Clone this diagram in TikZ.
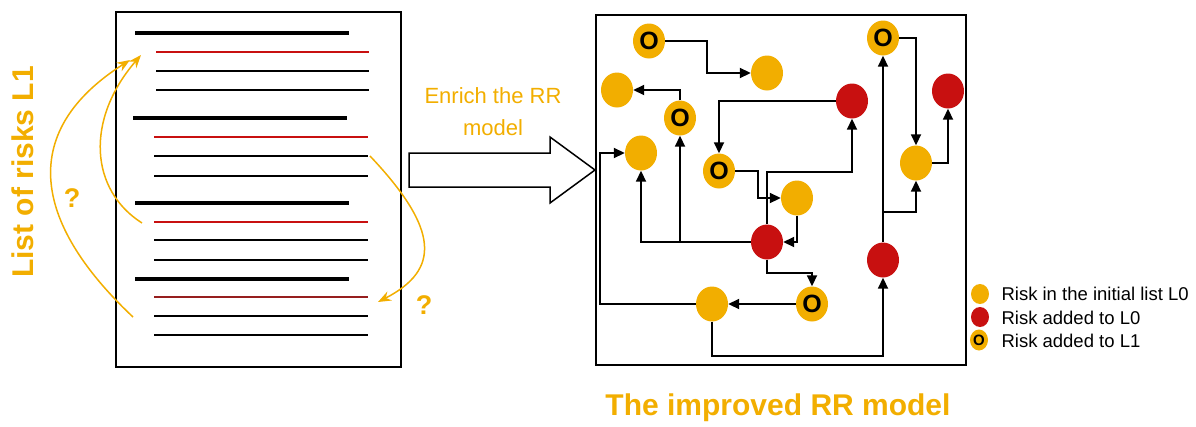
\documentclass[tikz,border=0pt]{standalone}
\usepackage{fontspec}
\setmainfont{Liberation Sans}
\usetikzlibrary{shapes.geometric,arrows.meta}
\definecolor{gold}{RGB}{242,174,0}
\definecolor{riskred}{RGB}{200,16,16}
\definecolor{darkred}{RGB}{150,30,30}
\begin{document}
\begin{tikzpicture}[x=1pt,y=-1pt,
  yel/.style={ellipse, fill=gold, minimum width=32pt, minimum height=35pt, inner sep=0pt},
  redrisk/.style={yel, fill=riskred},
  ring/.style={yel, font=\bfseries\fontsize{25}{25}\selectfont, text=black},
  syel/.style={ellipse, fill=gold, minimum width=18pt, minimum height=20pt, inner sep=0pt},
  sred/.style={syel, fill=riskred},
  sring/.style={syel, minimum height=21pt, font=\bfseries\fontsize{15}{15}\selectfont, text=black},
  link/.style={line width=1.8pt, -{Triangle[length=11pt,width=10pt]}},
  guess/.style={draw=gold, line width=1.5pt, -{Stealth[length=13pt,width=10pt]}, gold},
  title/.style={text=gold, font=\bfseries\fontsize{30}{30}\selectfont},
  qmark/.style={text=gold, font=\bfseries\fontsize{27}{27}\selectfont, anchor=base},
  legtext/.style={anchor=base west, font=\fontsize{18.5}{18.5}\selectfont},
  thickln/.style={line width=3.2pt},
  thinln/.style={line width=1.6pt},
  redln/.style={line width=1.4pt, draw=riskred}
]
\useasboundingbox (0,0) rectangle (1196,426);

% ---------- left document ----------
\node[draw, line width=1.5pt, minimum width=285pt, minimum height=355pt, anchor=north west, inner sep=0pt] (doc) at (115,11) {};

\draw[thickln] (135,33) -- (349,33);
\draw[redln]   (156,52) -- (369,52);
\draw[thinln]  (156,71) -- (369,71);
\draw[thinln]  (156,90) -- (369,90);

\draw[thickln] (133,118) -- (347,118);
\draw[redln]   (154,137) -- (368,137);
\draw[thinln]  (154,156) -- (368,156);
\draw[thinln]  (154,176) -- (368,176);

\draw[thickln] (135,203) -- (349,203);
\draw[redln]   (154,222) -- (368,222);
\draw[thinln]  (154,240) -- (368,240);
\draw[thinln]  (154,260) -- (368,260);

\draw[thickln] (135,279) -- (349,279);
\draw[redln, draw=darkred] (154,297) -- (368,297);
\draw[thinln]  (154,316) -- (368,316);
\draw[thinln]  (154,335) -- (368,335);

% orange curves
\coordinate (ca) at (133,317);
\coordinate (cb) at (130,60);
\coordinate (cc) at (142,223);
\coordinate (cd) at (141,55);
\coordinate (ce) at (370,156);
\coordinate (cf) at (378,302);
\draw[guess] (ca) .. controls (30,220) and (20,130) .. (cb);
\draw[guess] (cc) .. controls (90,190) and (85,120) .. (cd);
\draw[guess] (ce) .. controls (440,230) and (440,270) .. (cf);

\node[qmark] (q1) at (72,207) {?};
\node[qmark] (q2) at (424,314) {?};

\node[title, rotate=90, anchor=base] (l1) at (33,172) {List of risks L1};

% ---------- big arrow ----------
\draw[line width=1.5pt, fill=white] (409,153) -- (550,153) -- (550,137) -- (595,170) -- (550,203) -- (550,187) -- (409,187) -- cycle;
\node[text=gold, font=\fontsize{22}{22}\selectfont, anchor=base] (en1) at (493,103) {Enrich the RR};
\node[text=gold, font=\fontsize{22}{22}\selectfont, anchor=base] (en2) at (493,135) {model};

% ---------- right model ----------
\node[draw, line width=2pt, minimum width=370pt, minimum height=350pt, anchor=north west, inner sep=0pt] (model) at (595,14) {};

\node[ring] (O1) at (649,41) {O};
\node[yel]  (Y1) at (767,73) {};
\node[yel]  (Y2) at (617,90) {};
\node[ring] (O2) at (680,118) {O};
\node[redrisk] (R1) at (852,101) {};
\node[ring] (O3) at (883,38) {O};
\node[redrisk] (R2) at (948,91) {};
\node[yel]  (Y3) at (641,153) {};
\node[ring] (O4) at (719,171) {O};
\node[yel]  (Y4) at (916,163) {};
\node[yel]  (Y5) at (797,198) {};
\node[redrisk] (R3) at (767,242) {};
\node[redrisk] (R4) at (883,260) {};
\node[yel]  (Y6) at (712,304) {};
\node[ring] (O5) at (812,304) {O};

\coordinate (j1) at (883,212);
\coordinate (j2) at (680,242);

\draw[link] (O1.east) -| (707,73) -- (Y1.west);
\draw[link] (O2.north) |- (Y2.east);
\draw[link] (R1.west) -| (O4.north);
\draw[link] (O3.east) -| (Y4.north);
\draw[link] (Y4.east) -| (R2.south);
\draw[link] (R4.north) -- (O3.south);
\draw[link] (j1) -| (Y4.south);
\draw[link] (Y6.west) -| (600,153) -- (Y3.west);
\draw[link] (R3.west) -| (Y3.south);
\draw[link] (j2) -- (O2.south);
\draw[link] (O4.east) -| (758,198) -- (Y5.west);
\draw[link] (R3.north) |- (852,172) -- (R1.south);
\draw[link] (Y5.south) |- (R3.east);
\draw[link] (R3.south) -- (767,273) -| (O5.north);
\draw[link] (O5.west) -- (Y6.east);
\draw[link] (Y6.south) |- (883,356) -- (R4.south);

\node[title, anchor=base] (t) at (778,415) {The improved RR model};

% ---------- legend ----------
\node[syel]  (k1) at (980,294) {};
\node[sred]  (k2) at (980,317) {};
\node[sring] (k3) at (979,340) {O};
\node[legtext] (k1t) at (998,300.5) {Risk in the initial list L0};
\node[legtext] (k2t) at (998,324) {Risk added to L0};
\node[legtext] (k3t) at (998,347) {Risk added to L1};
\end{tikzpicture}
\end{document}
